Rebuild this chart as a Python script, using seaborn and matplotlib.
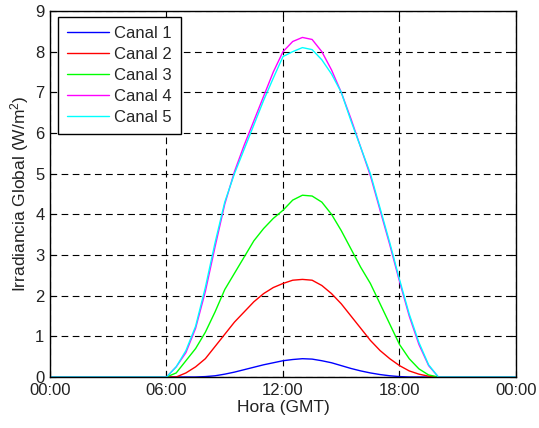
import numpy as np
import pandas as pd
import matplotlib
matplotlib.use("Agg")
import matplotlib.pyplot as plt
import seaborn as sns

hours = [0, 6.0, 6.5, 7.0, 7.5, 8.0, 8.5, 9.0, 9.5, 10.0, 10.5, 11.0, 11.5, 12.0,
         12.5, 13.0, 13.5, 14.0, 14.5, 15.0, 15.5, 16.0, 16.5, 17.0, 17.5, 18.0,
         18.5, 19.0, 19.5, 20.0, 24]

canal1 = [0, 0, 0, 0, 0, 0.01, 0.03, 0.07, 0.12, 0.18, 0.24, 0.30, 0.35, 0.40,
          0.43, 0.45, 0.44, 0.40, 0.35, 0.28, 0.21, 0.15, 0.10, 0.06, 0.03, 0.01,
          0, 0, 0, 0, 0]
canal2 = [0, 0, 0, 0.10, 0.25, 0.45, 0.75, 1.05, 1.35, 1.60, 1.85, 2.05, 2.20, 2.30,
          2.38, 2.40, 2.38, 2.25, 2.05, 1.80, 1.50, 1.20, 0.90, 0.65, 0.45, 0.28,
          0.15, 0.07, 0.02, 0, 0]
canal3 = [0, 0, 0.10, 0.40, 0.70, 1.10, 1.60, 2.15, 2.55, 2.95, 3.35, 3.65, 3.90, 4.10,
          4.35, 4.47, 4.45, 4.30, 4.00, 3.60, 3.15, 2.70, 2.30, 1.80, 1.30, 0.80,
          0.45, 0.20, 0.05, 0, 0]
canal4 = [0, 0, 0.25, 0.60, 1.20, 2.10, 3.20, 4.25, 5.05, 5.70, 6.30, 6.90, 7.50, 8.00,
          8.25, 8.35, 8.30, 8.00, 7.55, 7.00, 6.35, 5.65, 4.95, 4.10, 3.25, 2.35,
          1.50, 0.80, 0.28, 0, 0]
canal5 = [0, 0, 0.25, 0.65, 1.25, 2.20, 3.30, 4.30, 5.00, 5.60, 6.20, 6.80, 7.35, 7.88,
          8.00, 8.10, 8.05, 7.80, 7.45, 7.00, 6.30, 5.65, 5.00, 4.15, 3.30, 2.40,
          1.55, 0.85, 0.30, 0, 0]

names = ["Canal 1", "Canal 2", "Canal 3", "Canal 4", "Canal 5"]
colors = ["#0000ff", "#ff0000", "#00ff00", "#ff00ff", "#00ffff"]
xticks = [0, 6, 12, 18, 24]
xticklabels = ["00:00", "06:00", "12:00", "18:00", "00:00"]
yticks = [0, 1, 2, 3, 4, 5, 6, 7, 8, 9]

frames = []
for n, v in zip(names, [canal1, canal2, canal3, canal4, canal5]):
    frames.append(pd.DataFrame({"Hora": hours, "Irr": v, "Canal": n}))
df = pd.concat(frames, ignore_index=True)

sns.set_style("ticks")
plt.rcParams["font.family"] = ["Liberation Sans", "DejaVu Sans"]
plt.rcParams["mathtext.default"] = "regular"

fig = plt.figure(figsize=(5.39, 4.28), dpi=100)
ax = fig.add_axes([50/539, (428-377)/428, (516-50)/539, (377-11)/428])

sns.lineplot(data=df, x="Hora", y="Irr", hue="Canal", palette=colors,
             linewidth=1.0, ax=ax, legend=True)

ax.set_xlim(0, 24)
ax.set_ylim(0, 9)
ax.set_xticks(xticks)
ax.set_xticklabels(xticklabels)
ax.set_yticks(yticks)
ax.grid(True, color="black", linestyle=(0, (6, 4)), linewidth=0.8)
ax.tick_params(direction="in", top=True, right=True, labelsize=12, length=4,
               colors="black", labelcolor="#222222")
ax.tick_params(axis="x", pad=4)
ax.tick_params(axis="y", pad=4)
for s in ax.spines.values():
    s.set_color("black")
    s.set_linewidth(1.0)
    s.set_visible(True)
ax.set_xlabel("Hora (GMT)", fontsize=12.5, color="#222222", labelpad=2)
ax.set_ylabel("Irradiancia Global (W/m$^2$)", fontsize=12.5, color="#222222", labelpad=3)

leg = ax.legend(loc="upper left", fontsize=12, frameon=True, fancybox=False,
                edgecolor="black", handlelength=2.5, handletextpad=0.3,
                borderpad=0.55, labelspacing=0.36, borderaxespad=0,
                bbox_to_anchor=(8/466, 1 - 6/366))
leg.get_frame().set_linewidth(1.0)
leg.get_frame().set_alpha(1)

fig.savefig("out.png", dpi=100)
